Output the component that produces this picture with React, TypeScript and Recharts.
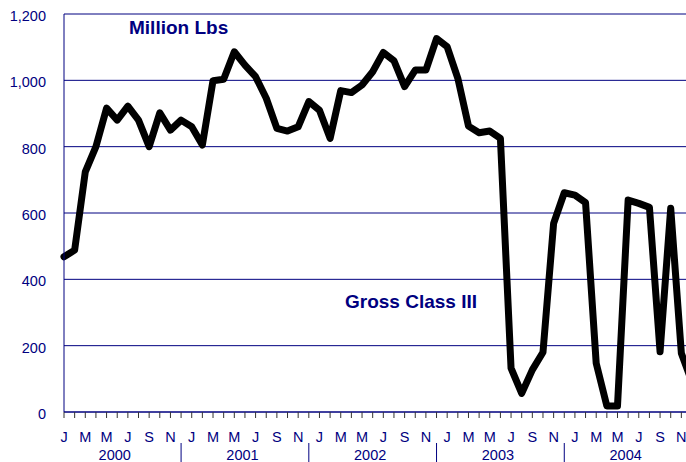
import React from 'react';
import { LineChart, Line, XAxis, YAxis, CartesianGrid } from 'recharts';

const years = ['2000', '2001', '2002', '2003', '2004'];
const monthLetters = ['J', 'F', 'M', 'A', 'M', 'J', 'J', 'A', 'S', 'O', 'N', 'D'];
const yTicks = [0, 200, 400, 600, 800, 1000, 1200];

// Gross Class III, million lbs, Jan 2000 .. Dec 2004
const grossClass3 = [
  468, 488, 724, 800, 916, 880, 922, 880, 800, 902, 850, 880,
  860, 805, 999, 1003, 1086, 1046, 1011, 946, 855, 847, 860, 936,
  910, 825, 969, 963, 986, 1026, 1084, 1059, 981, 1031, 1031, 1126,
  1101, 1006, 862, 842, 847, 825, 132, 56, 127, 180, 569, 661,
  654, 631, 147, 18, 18, 639, 629, 617, 182, 614, 177, 90,
];

const data = grossClass3.map((v, i) => ({ idx: i, value: v }));

const NAVY = '#000080';

const MonthTick = (props: any) => {
  const { x, y, payload } = props;
  const i = payload.value as number;
  const m = i % 12;
  return (
    <g>
      <line x1={x} x2={x} y1={y} y2={y + 6} stroke="#333" strokeWidth={1} />
      {m % 2 === 0 && (
        <text x={x} y={y + 30} textAnchor="middle" fill={NAVY} fontSize={14.5}>
          {monthLetters[m]}
        </text>
      )}
      {m === 5 && (
        <text x={x - 2.5} y={y + 48} textAnchor="middle" fill={NAVY} fontSize={14.5}>
          {years[Math.floor(i / 12)]}
        </text>
      )}
      {m === 11 && i < 59 && (
        <line x1={x} x2={x} y1={y + 31} y2={y + 52} stroke={NAVY} strokeWidth={1} />
      )}
    </g>
  );
};

export default function App() {
  return (
    <div
      style={{
        position: 'absolute',
        left: 0,
        top: 0,
        width: 686,
        height: 462,
        overflow: 'hidden',
        background: '#fff',
        fontFamily: '"Liberation Sans", Arial, sans-serif',
      }}
    >
      <LineChart
        width={692}
        height={462}
        data={data}
        margin={{ top: 14, right: 0, bottom: 0, left: 0 }}
      >
        <CartesianGrid vertical={false} stroke={NAVY} strokeWidth={1} />
        <XAxis
          dataKey="idx"
          type="category"
          interval={0}
          height={50}
          axisLine={{ stroke: NAVY }}
          tickLine={false}
          tickSize={0}
          tickMargin={0}
          tick={<MonthTick />}
        />
        <YAxis
          domain={[0, 1200]}
          ticks={yTicks}
          width={64}
          axisLine={{ stroke: NAVY }}
          tickLine={false}
          tickMargin={12}
          tick={{ fill: NAVY, fontSize: 14.5, dy: 2 }}
          tickFormatter={(v: number) => v.toLocaleString('en-US')}
        />
        <Line
          dataKey="value"
          stroke="#000"
          strokeWidth={7}
          dot={false}
          strokeLinejoin="round"
          strokeLinecap="round"
          isAnimationActive={false}
        />
      </LineChart>
      <svg
        width={686}
        height={462}
        style={{ position: 'absolute', left: 0, top: 0, pointerEvents: 'none' }}
      >
        <text x={129} y={34} fill={NAVY} fontSize={19} fontWeight="bold">
          Million Lbs
        </text>
        <text x={345} y={308} fill={NAVY} fontSize={19} fontWeight="bold">
          Gross Class III
        </text>
      </svg>
    </div>
  );
}
